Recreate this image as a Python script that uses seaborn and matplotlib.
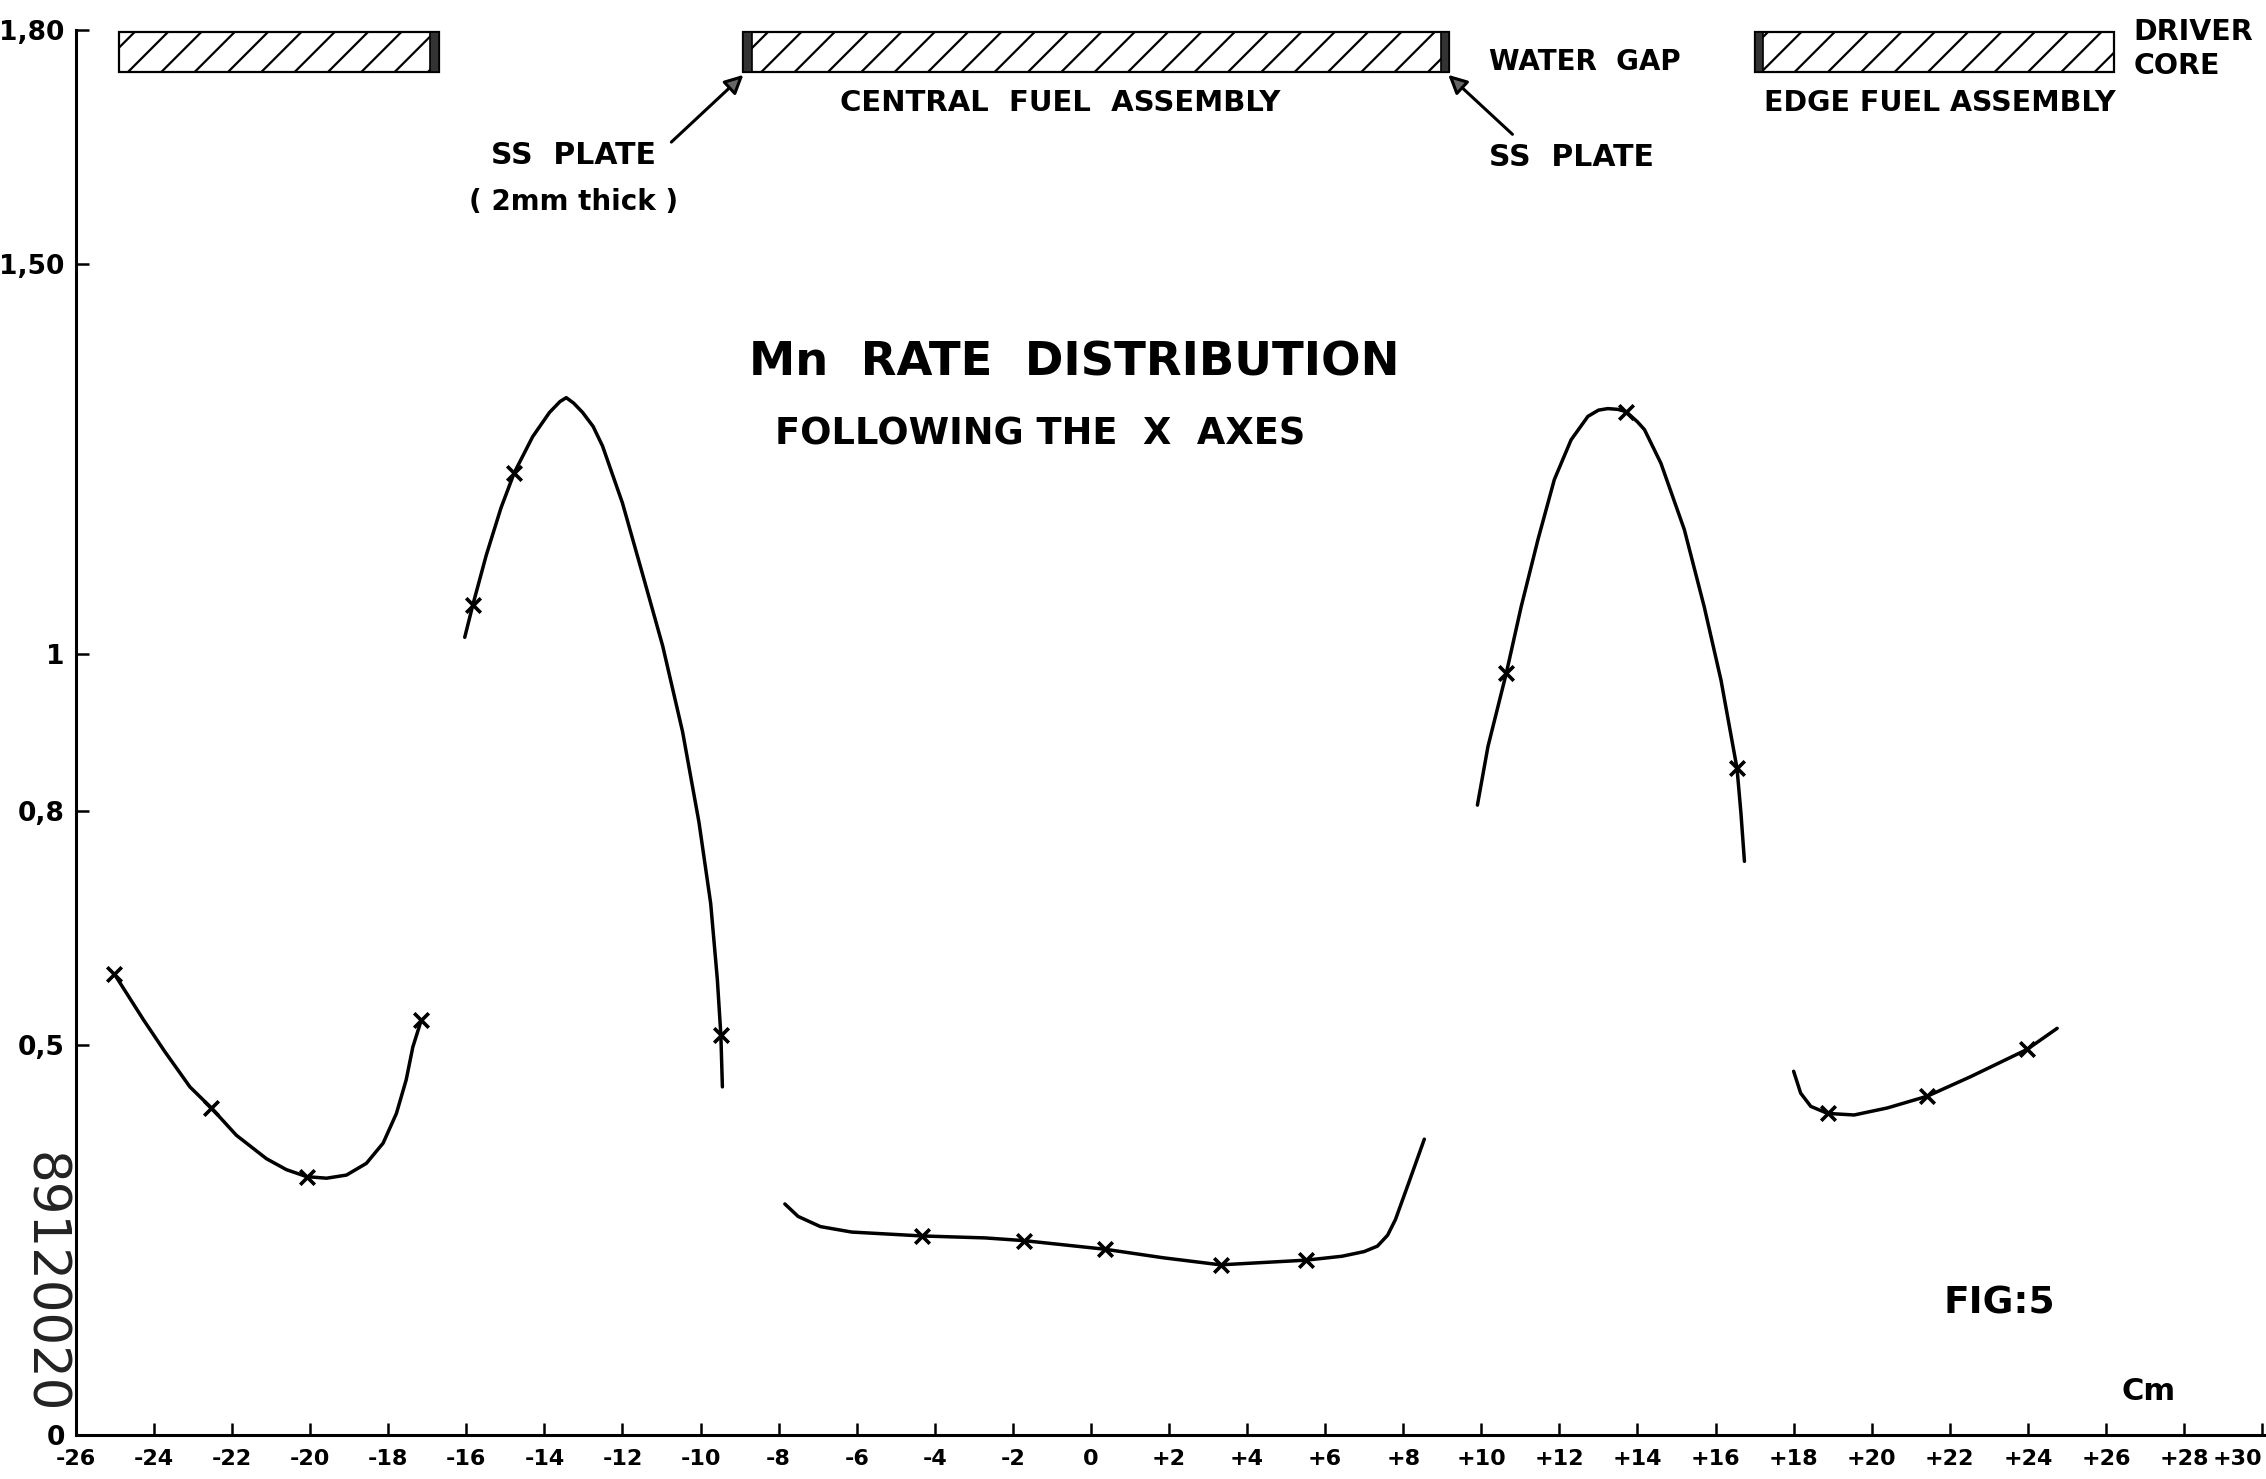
import matplotlib
matplotlib.use("Agg")
import matplotlib.pyplot as plt
from matplotlib.patches import Rectangle
import seaborn as sns
import pandas as pd

# values (x in cm, y = relative Mn rate)
left_edge_x = [-25.02, -24.27, -23.72, -23.08, -22.53, -21.89, -21.12, -20.61, -20.09,
               -19.58, -19.07, -18.56, -18.13, -17.79, -17.54, -17.37, -17.15]
left_edge_y = [0.591, 0.532, 0.491, 0.446, 0.419, 0.384, 0.354, 0.340, 0.331,
               0.329, 0.333, 0.348, 0.374, 0.412, 0.455, 0.497, 0.532]

left_gap_x = [-16.04, -15.83, -15.49, -15.11, -14.77, -14.30, -13.87, -13.60, -13.44,
              -13.25, -13.02, -12.75, -12.51, -12.00, -11.48, -10.97, -10.46, -10.04,
              -9.74, -9.57, -9.48, -9.44]
left_gap_y = [1.022, 1.064, 1.127, 1.188, 1.233, 1.279, 1.310, 1.324, 1.329,
              1.322, 1.310, 1.292, 1.267, 1.194, 1.102, 1.011, 0.901, 0.785,
              0.681, 0.584, 0.513, 0.446]

central_x = [-7.84, -7.50, -6.93, -6.13, -4.32, -2.71, -1.71, 0.36, 1.86, 3.32,
             5.51, 6.43, 7.00, 7.34, 7.60, 7.80, 8.14, 8.54]
central_y = [0.296, 0.280, 0.267, 0.260, 0.255, 0.2525, 0.249, 0.238, 0.227, 0.218,
             0.224, 0.229, 0.235, 0.242, 0.256, 0.276, 0.323, 0.379]

right_gap_x = [9.90, 10.17, 10.64, 11.02, 11.45, 11.87, 12.30, 12.73, 13.00, 13.24,
               13.50, 13.71, 14.00, 14.18, 14.60, 15.20, 15.71, 16.14, 16.55, 16.65, 16.74]
right_gap_y = [0.807, 0.882, 0.976, 1.061, 1.147, 1.224, 1.275, 1.305, 1.313, 1.315,
               1.314, 1.311, 1.298, 1.288, 1.245, 1.160, 1.061, 0.967, 0.854, 0.797, 0.735]

right_edge_x = [18.00, 18.18, 18.44, 18.87, 19.55, 20.40, 21.42, 22.53, 23.98, 24.75]
right_edge_y = [0.466, 0.438, 0.421, 0.412, 0.410, 0.419, 0.434, 0.459, 0.494, 0.521]

meas_x = [-25.02, -22.53, -20.09, -17.15, -15.83, -14.77, -9.48, -4.32, -1.71, 0.36,
          3.32, 5.51, 10.64, 13.71, 16.55, 18.87, 21.42, 23.98]
meas_y = [0.591, 0.419, 0.331, 0.532, 1.064, 1.233, 0.513, 0.255, 0.249, 0.238,
          0.218, 0.224, 0.976, 1.311, 0.854, 0.412, 0.434, 0.494]

# assemblies drawn along the top (cm)
edge_left = (-24.9, -16.7)
central = (-8.9, 9.18)
edge_right = (17.0, 26.2)
plate = 0.22

yticks = [0, 0.5, 0.8, 1.0, 1.5, 1.8]
yticklabels = ["0", "0,5", "0,8", "1", "1,50", "1,80"]
xticks = list(range(-26, 32, 2))
xticklabels = [("+%d" % t if t > 0 else str(t)) for t in xticks]

sns.set_theme(style="ticks")
fam = ["DejaVu Sans"]
plt.rcParams["font.family"] = fam
plt.rcParams["hatch.linewidth"] = 1.6

fig = plt.figure(figsize=(22.66, 14.79), dpi=100)
ax = fig.add_axes([0.0335, 0.02975, 0.9665, 0.970])

segments = [(left_edge_x, left_edge_y), (left_gap_x, left_gap_y), (central_x, central_y),
            (right_gap_x, right_gap_y), (right_edge_x, right_edge_y)]
for sx, sy in segments:
    df = pd.DataFrame({"x": sx, "y": sy})
    sns.lineplot(data=df, x="x", y="y", sort=False, estimator=None, color="black",
                 lw=2.5, ax=ax)
sns.scatterplot(x=meas_x, y=meas_y, marker="x", s=110, color="black", linewidth=2.6,
                ax=ax, zorder=5)

ax.set_xlim(-25.9, 30.1)
ax.set_ylim(0, 1.838)
ax.set_xlabel("")
ax.set_ylabel("")
sns.despine(ax=ax)
ax.spines["left"].set_bounds(0, 1.8)
for s in ["left", "bottom"]:
    ax.spines[s].set_linewidth(2.2)
    ax.spines[s].set_color("black")
ax.set_yticks(yticks)
ax.set_yticklabels(yticklabels)
ax.set_xticks(xticks)
ax.set_xticklabels(xticklabels)
ax.tick_params(axis="both", direction="in", length=9, width=1.8, colors="black")
ax.tick_params(axis="y", labelsize=19, pad=8)
ax.tick_params(axis="x", labelsize=16, pad=10)
for lab in ax.get_xticklabels() + ax.get_yticklabels():
    lab.set_fontweight("bold")
# last label sits on the right edge of the sheet
ax.get_xticklabels()[-1].set_horizontalalignment("right")

# hatched assembly bars
ytop, ybot = 1.798, 1.746
for (a, b) in [edge_left, central, edge_right]:
    ax.add_patch(Rectangle((a, ybot), b - a, ytop - ybot, facecolor="white",
                           edgecolor="black", hatch="/", lw=1.6, zorder=3))
for px in [edge_left[1] - plate, central[0], central[1] - plate, edge_right[0]]:
    ax.add_patch(Rectangle((px, ybot), plate, ytop - ybot, facecolor="#333333",
                           edgecolor="black", lw=1.2, zorder=4))

tk = dict(color="black", fontweight="bold", family=fam)
ax.text(-0.8, 1.707, "CENTRAL  FUEL  ASSEMBLY", ha="center", va="center", fontsize=21, **tk)
ax.text(21.75, 1.707, "EDGE FUEL ASSEMBLY", ha="center", va="center", fontsize=20.5, **tk)
ax.text(10.2, 1.759, "WATER  GAP", ha="left", va="center", fontsize=20, **tk)
ax.text(26.7, 1.798, "DRIVER", ha="left", va="center", fontsize=20.5, **tk)
ax.text(26.7, 1.754, "CORE", ha="left", va="center", fontsize=20.5, **tk)
ax.text(-13.25, 1.639, "SS  PLATE", ha="center", va="center", fontsize=21.5, **tk)
ax.text(-13.25, 1.580, "( 2mm thick )", ha="center", va="center", fontsize=20, **tk)
ax.text(10.2, 1.637, "SS  PLATE", ha="left", va="center", fontsize=21.5, **tk)

arrow = dict(arrowstyle="-|>", color="black", lw=2.2, mutation_scale=28, fc="#666666")
ax.annotate("", xy=(-8.85, 1.745), xytext=(-10.8, 1.654), arrowprops=arrow)
ax.annotate("", xy=(9.1, 1.745), xytext=(10.85, 1.664), arrowprops=arrow)

ax.text(-0.43, 1.374, "Mn  RATE  DISTRIBUTION", ha="center", va="center", fontsize=33.5, **tk)
ax.text(-1.3, 1.283, "FOLLOWING THE  X  AXES", ha="center", va="center", fontsize=26.5, **tk)
ax.text(23.26, 0.169, "FIG:5", ha="center", va="center", fontsize=27, **tk)
ax.text(27.1, 0.056, "Cm", ha="center", va="center", fontsize=22, **tk)

fig.text(0.019, 0.1325, "89120020", rotation=-90, ha="center", va="center",
         fontsize=37, color="#222222", family=["DejaVu Sans"], fontweight="normal")

fig.savefig("out.png", dpi=100, facecolor="white")
